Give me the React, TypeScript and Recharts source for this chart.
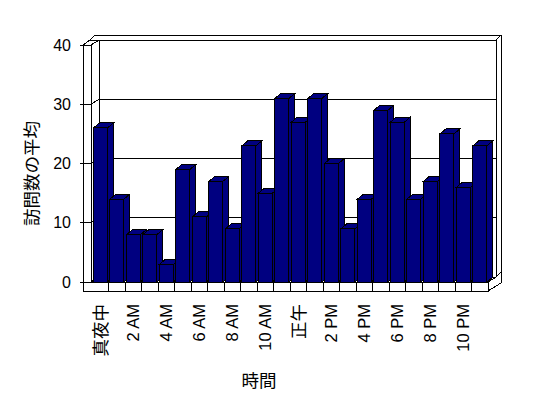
import React from 'react';
import { Bar, BarChart, CartesianGrid, XAxis, YAxis } from 'recharts';

// hour of day -> average visits
const hours = [0, 1, 2, 3, 4, 5, 6, 7, 8, 9, 10, 11, 12, 13, 14, 15, 16, 17, 18, 19, 20, 21, 22, 23];
const visits = [26, 14, 8, 8, 3, 19, 11, 17, 9, 23, 15, 31, 27, 31, 20, 9, 14, 29, 27, 14, 17, 25, 16, 23];
const xLabels = ['真夜中', '', '2 AM', '', '4 AM', '', '6 AM', '', '8 AM', '', '10 AM', '',
  '正午', '', '2 PM', '', '4 PM', '', '6 PM', '', '8 PM', '', '10 PM', ''];
const yTicks = [0, 10, 20, 30, 40];

const W = 548, H = 398;
const M = { top: 45, right: 60, bottom: 0, left: 0 };
const Y_AXIS_W = 92, X_AXIS_H = 116;
const TOP = M.top, BOTTOM = H - M.bottom - X_AXIS_H;
const WDX = 8, WDY = 5;   // wall depth
const BDX = 6, BDY = 5;   // bar depth
const FLOOR = 9;          // floor thickness
const NAVY = '#000080';
const FONT = '"Liberation Sans", Arial, "Noto Sans CJK JP", sans-serif';

const data = hours.map((h, i) => ({ hour: h, visits: visits[i] }));

const ln = { stroke: '#000', strokeWidth: 1, fill: 'none', shapeRendering: 'crispEdges' as const };

function GridLine(p: any) {
  const { x1, x2, y1 } = p;
  const L = x1 - 1, O = 83; // inner / outer face of left wall
  const parts: React.ReactNode[] = [];
  // tick + side wall + back wall gridline
  parts.push(<polyline key="g" {...ln} points={`${O - 3},${y1} ${L},${y1} ${L + WDX},${y1 - WDY} ${x2 + WDX},${y1 - WDY}`} />);
  if (Math.abs(y1 - TOP) < 1) {
    parts.push(
      <g key="frame">
        <line {...ln} x1={O} y1={TOP} x2={O} y2={BOTTOM + FLOOR} />
        <line {...ln} x1={L} y1={TOP} x2={L} y2={BOTTOM} />
        <polyline {...ln} points={`${O},${TOP} ${O + 7},${TOP - 5} ${O + 12},${TOP - 10} ${x2 + WDX + 5},${TOP - 10} ${x2 + WDX + 5},${BOTTOM + 1}`} />
        <line {...ln} x1={O + 7} y1={TOP - 5} x2={L + WDX} y2={TOP - 5} />
        <line {...ln} x1={x2 + WDX} y1={TOP - WDY} x2={x2 + WDX + 5} y2={TOP - WDY - 5} />
        <line {...ln} x1={L + WDX} y1={TOP - WDY} x2={L + WDX} y2={BOTTOM - WDY} />
        <line {...ln} x1={x2 + WDX} y1={TOP - WDY} x2={x2 + WDX} y2={BOTTOM - WDY} />
      </g>
    );
  }
  if (Math.abs(y1 - BOTTOM) < 1) {
    const band = (x2 - x1) / hours.length;
    parts.push(
      <g key="floor">
        <rect {...ln} x={O} y={BOTTOM} width={x2 - O} height={FLOOR} />
        {hours.slice(1).map((h) => (
          <line key={h} {...ln} x1={x1 + h * band} y1={BOTTOM} x2={x1 + h * band} y2={BOTTOM + FLOOR} />
        ))}
        <polyline {...ln} points={`${x2},${BOTTOM} ${x2 + WDX},${BOTTOM - WDY} ${x2 + WDX + 5},${BOTTOM - WDY - 5}`} />
        <line {...ln} x1={x2} y1={BOTTOM + FLOOR} x2={x2 + WDX + 5} y2={BOTTOM + 1} />
      </g>
    );
  }
  return <g key={p.key}>{parts}</g>;
}

function Bar3D(p: any) {
  const { x, y, width, height } = p;
  if (!height) return null;
  const r = x + width, b = y + height;
  return (
    <g>
      <polygon points={`${x},${y} ${x + BDX},${y - BDY} ${r + BDX},${y - BDY} ${r},${y}`} fill={NAVY} stroke="#000" shapeRendering="crispEdges" />
      <polygon points={`${r},${y} ${r + BDX},${y - BDY} ${r + BDX},${b - BDY} ${r},${b}`} fill={NAVY} stroke="#000" shapeRendering="crispEdges" />
      <rect x={x} y={y} width={width} height={height} fill={NAVY} stroke="#000" shapeRendering="crispEdges" />
    </g>
  );
}

function XTick(p: any) {
  const { x, y, payload } = p;
  const label = xLabels[payload.value];
  if (!label) return null;
  const cjk = /[^\x00-\x7f]/.test(label);
  return (
    <text transform={`translate(${x},${y + 22}) rotate(-90)`} textAnchor="end" dy="0.36em"
      fontFamily={FONT} fontSize={cjk ? 17.5 : 16.5} fill="#000">{label}</text>
  );
}

function YTick(p: any) {
  const { x, y, payload } = p;
  return (
    <text x={x - 21} y={y} textAnchor="end" dominantBaseline="central" fontFamily={FONT} fontSize={16} fill="#000">
      {payload.value}
    </text>
  );
}

function YTitle(p: any) {
  const vb = p.viewBox;
  const cx = vb.x + 32, cy = vb.y + vb.height / 2 + 10;
  return (
    <text transform={`translate(${cx},${cy}) rotate(-90)`} textAnchor="middle" dominantBaseline="central"
      fontFamily={FONT} fontSize={17.5} fill="#000">訪問数の平均</text>
  );
}

function XTitle(p: any) {
  const vb = p.viewBox;
  return (
    <text x={vb.x + vb.width / 2 - 31} y={vb.y + 99} textAnchor="middle" dominantBaseline="central"
      fontFamily={FONT} fontSize={17.5} fill="#000">時間</text>
  );
}

export default function App() {
  return (
    <div style={{ position: 'absolute', left: 0, top: 0, width: W, height: H, background: '#fff' }}>
      <BarChart width={W} height={H} data={data} margin={M} barCategoryGap="9%">
        <CartesianGrid horizontal={GridLine} vertical={false} />
        <XAxis dataKey="hour" interval={0} height={X_AXIS_H} tick={XTick} tickLine={false} axisLine={false}
          tickSize={0} tickMargin={0} label={XTitle} />
        <YAxis domain={[0, 40]} ticks={yTicks} width={Y_AXIS_W} tick={YTick} tickLine={false} axisLine={false}
          tickSize={0} tickMargin={0} label={YTitle} />
        <Bar dataKey="visits" shape={Bar3D} isAnimationActive={false} />
      </BarChart>
    </div>
  );
}
